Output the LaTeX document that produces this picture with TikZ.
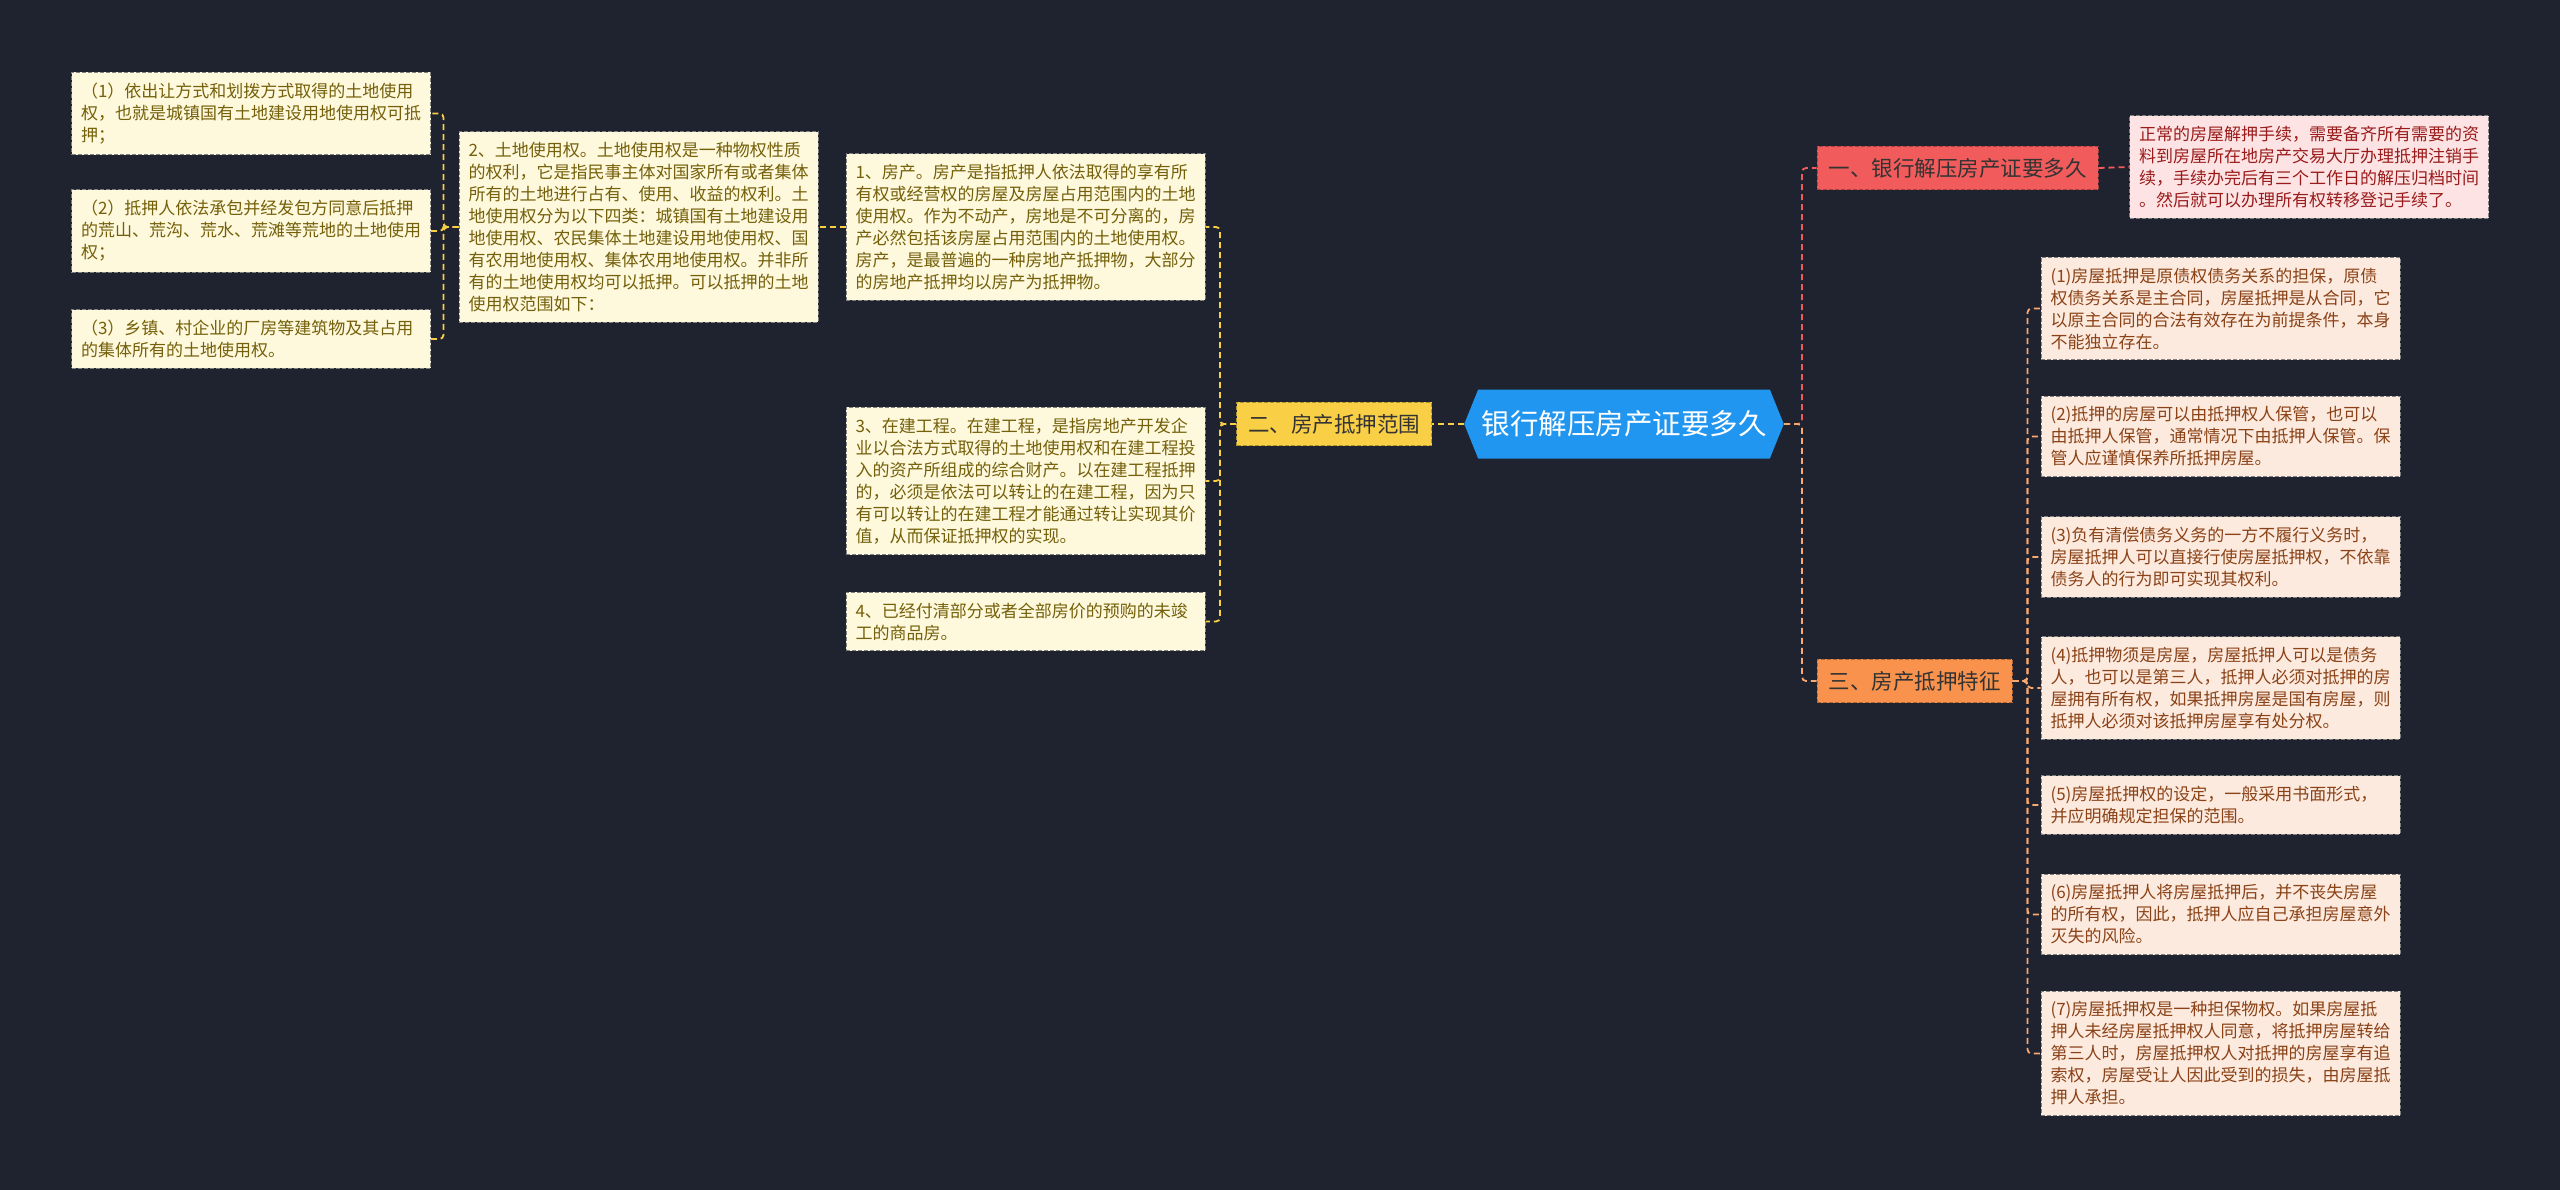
\documentclass[tikz,border=0pt]{standalone}
\usepackage{fontspec}
\setmainfont{Noto Sans CJK SC}
\usetikzlibrary{shapes.symbols}
\definecolor{bg}{HTML}{1F2330}
\definecolor{rootblue}{HTML}{2196F0}
\definecolor{yel}{HTML}{F9CF45}
\definecolor{yeltext}{HTML}{3B3000}
\definecolor{red1}{HTML}{F25B5B}
\definecolor{org}{HTML}{F8924C}
\definecolor{cream}{HTML}{FEF8DC}
\definecolor{creamtext}{HTML}{74600A}
\definecolor{peach}{HTML}{FDEADF}
\definecolor{peachtext}{HTML}{8A4216}
\definecolor{pink}{HTML}{FDE3E3}
\definecolor{pinktext}{HTML}{9A1B1B}

\begin{document}
\begin{tikzpicture}[x=1pt,y=-1pt,
  cat/.style={draw=#1!70!black,dash pattern=on 4pt off 2pt,line width=1pt,fill=#1,
    text=black!80,font=\fontsize{21.5}{26}\selectfont,inner xsep=11.5pt,inner ysep=12pt},
  leaf/.style={dash pattern=on 4pt off 2pt,line width=1pt,align=left,text width=340pt,
    font=\fontsize{17}{22}\selectfont,inner xsep=9.5pt,inner ysep=10.5pt},
  leafy/.style={leaf,draw=black!50,fill=cream,text=creamtext},
  leafo/.style={leaf,draw=black!50,fill=peach,text=peachtext},
  leafp/.style={leaf,draw=black!50,fill=pink,text=pinktext},
  link/.style={draw=#1,dash pattern=on 6pt off 4pt,line width=1.8pt,rounded corners=4pt}]
\fill[bg] (0,0) rectangle (2560,1190);

% root and first level
\node[signal,signal to=west and east,signal pointer angle=136,fill=rootblue,text=white,
  font=\fontsize{28.5}{32}\selectfont,minimum width=317,minimum height=69] (0) at (1624,424) {银行解压房产证要多久};
\node[cat=red1] (1) at (1957.5,168) {一、银行解压房产证要多久};
\node[cat=yel] (2) at (1334,424) {二、房产抵押范围};
\node[cat=org] (3) at (1914.5,681) {三、房产抵押特征};

% branch 1
\node[leafp] (1a) at (2309,167) {正常的房屋解押手续，需要备齐所有需要的资\\料到房屋所在地房产交易大厅办理抵押注销手\\续，手续办完后有三个工作日的解压归档时间\\。然后就可以办理所有权转移登记手续了。};

% branch 2
\node[leafy] (2a) at (1025.5,227) {1、房产。房产是指抵押人依法取得的享有所\\有权或经营权的房屋及房屋占用范围内的土地\\使用权。作为不动产，房地是不可分离的，房\\产必然包括该房屋占用范围内的土地使用权。\\房产，是最普遍的一种房地产抵押物，大部分\\的房地产抵押均以房产为抵押物。};
\node[leafy] (2c) at (1025.5,481) {3、在建工程。在建工程，是指房地产开发企\\业以合法方式取得的土地使用权和在建工程投\\入的资产所组成的综合财产。以在建工程抵押\\的，必须是依法可以转让的在建工程，因为只\\有可以转让的在建工程才能通过转让实现其价\\值，从而保证抵押权的实现。};
\node[leafy] (2d) at (1025.5,621.5) {4、已经付清部分或者全部房价的预购的未竣\\工的商品房。};
\node[leafy] (2b) at (638.5,227) {2、土地使用权。土地使用权是一种物权性质\\的权利，它是指民事主体对国家所有或者集体\\所有的土地进行占有、使用、收益的权利。土\\地使用权分为以下四类：城镇国有土地建设用\\地使用权、农民集体土地建设用地使用权、国\\有农用地使用权、集体农用地使用权。并非所\\有的土地使用权均可以抵押。可以抵押的土地\\使用权范围如下：};
\node[leafy] (2b1) at (251,113.5) {（1）依出让方式和划拨方式取得的土地使用\\权，也就是城镇国有土地建设用地使用权可抵\\押；};
\node[leafy] (2b2) at (251,231) {（2）抵押人依法承包并经发包方同意后抵押\\的荒山、荒沟、荒水、荒滩等荒地的土地使用\\权；};
\node[leafy] (2b3) at (251,339) {（3）乡镇、村企业的厂房等建筑物及其占用\\的集体所有的土地使用权。};

% branch 3
\node[leafo] (3a) at (2220.5,308.5) {(1)房屋抵押是原债权债务关系的担保，原债\\权债务关系是主合同，房屋抵押是从合同，它\\以原主合同的合法有效存在为前提条件，本身\\不能独立存在。};
\node[leafo] (3b) at (2220.5,436.5) {(2)抵押的房屋可以由抵押权人保管，也可以\\由抵押人保管，通常情况下由抵押人保管。保\\管人应谨慎保养所抵押房屋。};
\node[leafo] (3c) at (2220.5,557) {(3)负有清偿债务义务的一方不履行义务时，\\房屋抵押人可以直接行使房屋抵押权，不依靠\\债务人的行为即可实现其权利。};
\node[leafo] (3d) at (2220.5,688) {(4)抵押物须是房屋，房屋抵押人可以是债务\\人，也可以是第三人，抵押人必须对抵押的房\\屋拥有所有权，如果抵押房屋是国有房屋，则\\抵押人必须对该抵押房屋享有处分权。};
\node[leafo] (3e) at (2220.5,805) {(5)房屋抵押权的设定，一般采用书面形式，\\并应明确规定担保的范围。};
\node[leafo] (3f) at (2220.5,914.5) {(6)房屋抵押人将房屋抵押后，并不丧失房屋\\的所有权，因此，抵押人应自己承担房屋意外\\灭失的风险。};
\node[leafo] (3g) at (2220.5,1053.5) {(7)房屋抵押权是一种担保物权。如果房屋抵\\押人未经房屋抵押权人同意，将抵押房屋转给\\第三人时，房屋抵押权人对抵押的房屋享有追\\索权，房屋受让人因此受到的损失，由房屋抵\\押人承担。};

% connectors
\draw[link=red1] (0.east) -- ++(18,0) |- (1.west);
\draw[link=org!80!white] (0.east) -- ++(18,0) |- (3.west);
\draw[link=yel] (0.west) -- (2.east);
\draw[link=red1] (1.east) -- (1a.west);
\foreach \c in {2a,2c,2d}
  \draw[link=yel] (2.west) -- ++(-16,0) |- (\c.east);
\draw[link=yel] (2a.west) -- (2b.east);
\foreach \c in {2b1,2b2,2b3}
  \draw[link=yel] (2b.west) -- ++(-15,0) |- (\c.east);
\foreach \c in {3a,3b,3c,3d,3e,3f,3g}
  \draw[link=org!80!white] (3.east) -- ++(15,0) |- (\c.west);
\end{tikzpicture}
\end{document}
